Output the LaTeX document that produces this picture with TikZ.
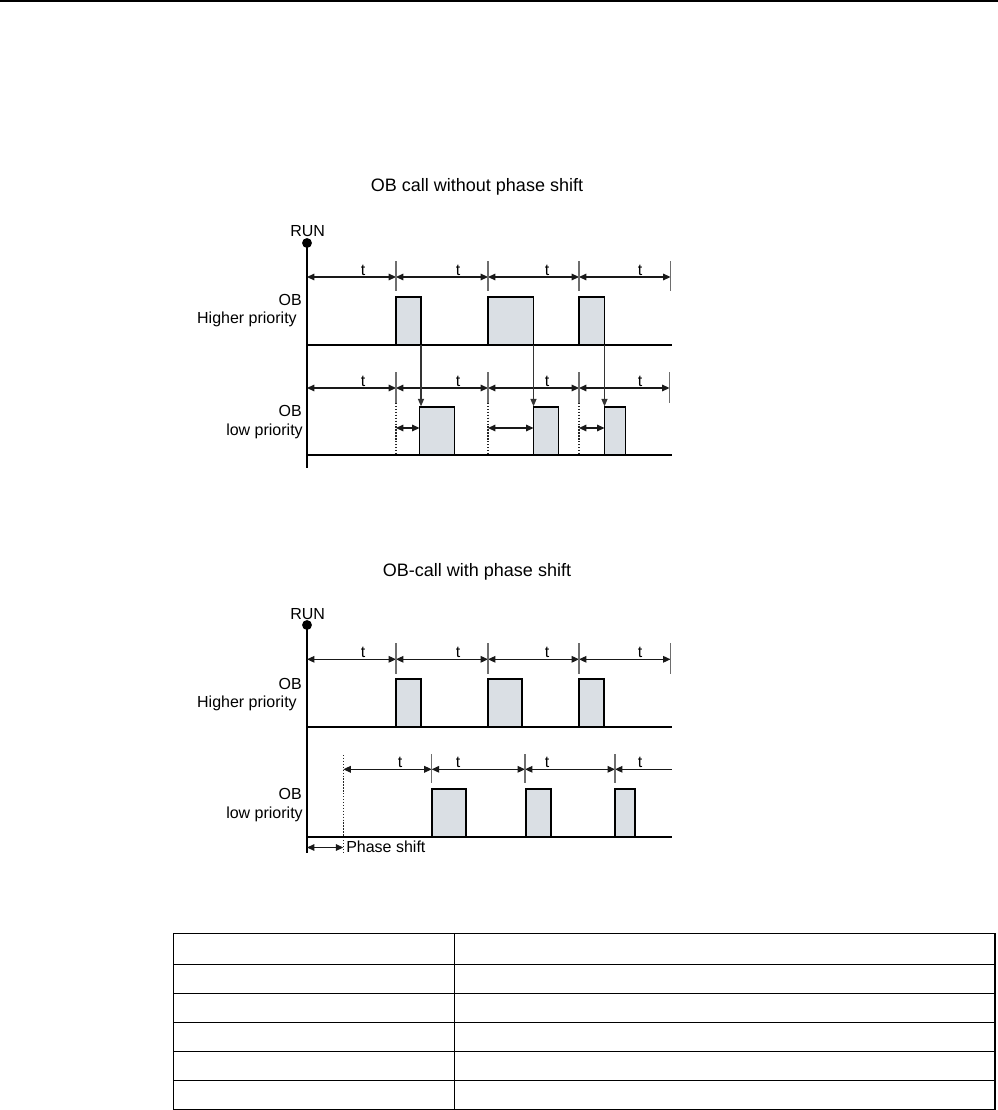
\documentclass[tikz,border=0pt]{standalone}
\usepackage{fontspec}
\setmainfont{Liberation Sans}
\usetikzlibrary{arrows.meta}
\definecolor{boxfill}{RGB}{218,223,228}
\definecolor{spancol}{RGB}{25,25,25}
\definecolor{tickcol}{RGB}{110,110,110}
\begin{document}
\begin{tikzpicture}[x=0.75pt,y=-0.75pt,
  every node/.style={font=\fontsize{12}{14}\selectfont, inner sep=0pt},
  titletext/.style={font=\fontsize{13.5}{16}\selectfont, anchor=base},
  lbl/.style={anchor=base east},
  tlbl/.style={anchor=base},
  baseln/.style={line width=1.5pt, draw=black},
  axisln/.style={line width=1.1pt, draw=black},
  pulse/.style={draw=black, line width=1.4pt, fill=boxfill},
  span/.style={draw=spancol, line width=0.8pt, {Triangle[length=5.6pt,width=5pt]}-{Triangle[length=5.6pt,width=5pt]}},
  lspan/.style={draw=spancol, line width=0.8pt, {Triangle[length=5.6pt,width=5pt]}-},
  tickln/.style={draw=tickcol, line width=0.8pt},
  dotln/.style={draw=black!85, line width=0.9pt, dash pattern=on 1pt off 1.2pt},
  callarr/.style={draw=black!80, line width=0.8pt, -{Triangle[length=5.5pt,width=4.5pt]}},
  tabln/.style={draw=black, line width=1pt}
]
\useasboundingbox (0,0) rectangle (998,1110);
\fill[white] (0,0) rectangle (998,1110);
\draw[line width=1.5pt] (0,0.9) -- (998,0.9);

% ---------------- titles
\node[titletext] (title1) at (477,191.5) {OB call without phase shift};
\node[titletext] (title2) at (477,576.5) {OB-call with phase shift};

% ================= Diagram 1
\coordinate (runA) at (307,243);
\node[anchor=base] (runAlbl) at (307.7,236.7) {RUN};
\draw[axisln] (runA) -- (307,468);
\fill (runA) circle (3.7pt);

% higher priority time spans
\foreach \a/\b in {307/396,396/488,488/579,579/670.5}
  \draw[span] (\a,277) -- (\b,277);
\foreach \x in {396,488,579,670.5}
  \draw[tickln] (\x,261) -- (\x,291);
\foreach \x/\n in {363/1,458/2,547/3,640/4}
  \node[tlbl] (tA\n) at (\x,275.5) {t};

\draw[baseln] (307,344.5) -- (671.5,344.5);
\foreach \a/\b in {396/421,488/533.5,579/604.5}
  \filldraw[pulse] (\a,344.5) rectangle (\b,297);

\node[lbl] (obA1) at (302,305) {OB};
\node[lbl] (hpA) at (297,323) {Higher priority};

% low priority
\foreach \a/\b in {307/396,396/488,488/579,579/669.5}
  \draw[span] (\a,388) -- (\b,388);
\foreach \x in {396,488,579,669.5}
  \draw[tickln] (\x,372) -- (\x,403);
\foreach \x/\n in {363/1,458/2,547/3,640/4}
  \node[tlbl] (tB\n) at (\x,386.5) {t};
\foreach \x in {396,488,579}
  \draw[dotln] (\x,403) -- (\x,455);

\draw[baseln] (307,455) -- (671.5,455);
\foreach \a/\b in {419.5/454.5,533.5/558.5,604.5/625.5}
  \filldraw[pulse] (\a,455) rectangle (\b,407);
\foreach \x in {421,533.5,604.5}
  \draw[callarr] (\x,344.5) -- (\x,406.3);
\foreach \a/\b in {396/419.5,488/533.5,579/604.5}
  \draw[span] (\a,428) -- (\b,428);

\node[lbl] (obA2) at (302,416) {OB};
\node[lbl] (lpA) at (303,435) {low priority};

% ================= Diagram 2
\coordinate (runB) at (307,625);
\node[anchor=base] (runBlbl) at (307.7,619) {RUN};
\draw[axisln] (runB) -- (307,853);
\fill (runB) circle (3.7pt);

\foreach \a/\b in {307/396,396/488,488/579,579/670.5}
  \draw[span] (\a,659.3) -- (\b,659.3);
\foreach \x in {396,488,579,670.5}
  \draw[tickln] (\x,643) -- (\x,674);
\foreach \x/\n in {363/1,458/2,547/3,640/4}
  \node[tlbl] (tC\n) at (\x,657.8) {t};

\draw[baseln] (307,726.7) -- (671.5,726.7);
\foreach \a/\b in {396/421,488/521.7,579/604.3}
  \filldraw[pulse] (\a,726.7) rectangle (\b,679.3);

\node[lbl] (obB1) at (302,689) {OB};
\node[lbl] (hpB) at (297,707.7) {Higher priority};

% low priority with phase shift
\foreach \a/\b in {343.3/431.7,431.7/525,525/615}
  \draw[span] (\a,769.3) -- (\b,769.3);
\draw[lspan] (615,769.3) -- (671.5,769.3);
\foreach \x in {431.7,525,615}
  \draw[tickln] (\x,754) -- (\x,783.3);
\foreach \x/\n in {400/1,458/2,547/3,640/4}
  \node[tlbl] (tD\n) at (\x,767) {t};
\draw[dotln] (343.3,755) -- (343.3,853);

\draw[baseln] (307,836.7) -- (671.5,836.7);
\foreach \a/\b in {431.7/466,525.7/551,615/635}
  \filldraw[pulse] (\a,836.7) rectangle (\b,789.3);

\node[lbl] (obB2) at (302,799.3) {OB};
\node[lbl] (lpB) at (303,818.3) {low priority};

\draw[span] (307,847.5) -- (343.3,847.5);
\node[anchor=base west] (phs) at (346,852.7) {Phase shift};

% ================= table
\draw[tabln] (173.3,933.3) rectangle (995,1109.3);
\foreach \y in {964.3,993.3,1022.3,1051.3,1080.3}
  \draw[tabln] (173.3,\y) -- (995,\y);
\draw[tabln] (454.3,933.3) -- (454.3,1109.3);
\end{tikzpicture}
\end{document}
